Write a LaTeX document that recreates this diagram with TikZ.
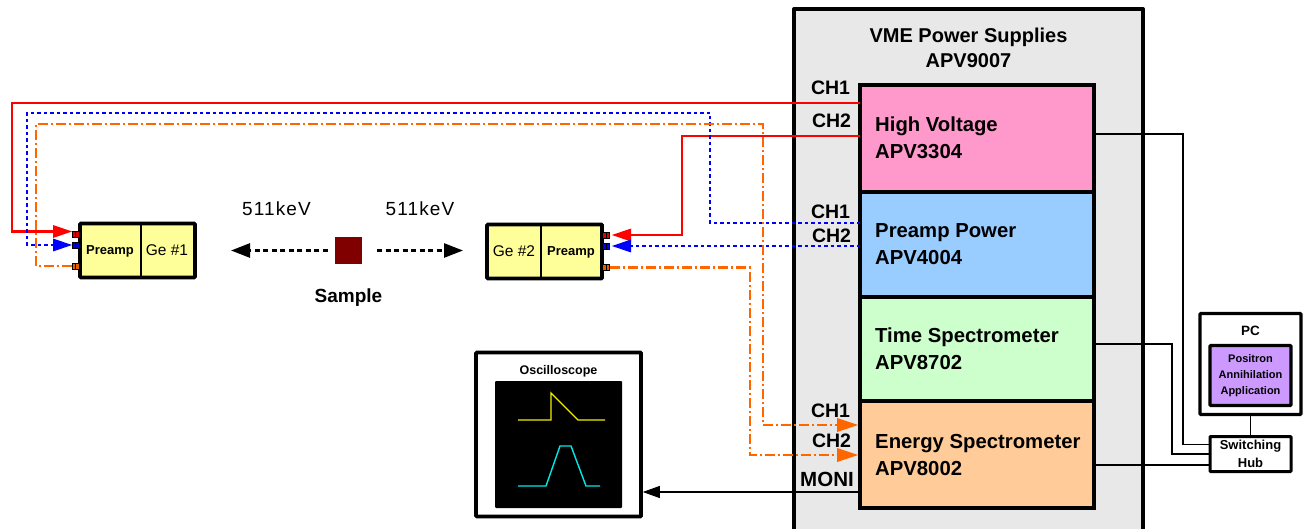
\documentclass[tikz,border=0pt]{standalone}
\usepackage{fontspec}
\setmainfont{Liberation Sans}
\newfontfamily\spaced{Liberation Sans}[LetterSpace=6]
\usetikzlibrary{arrows.meta}
\definecolor{hv}{HTML}{FF99CC}
\definecolor{pp}{HTML}{99CCFF}
\definecolor{ts}{HTML}{CCFFCC}
\definecolor{es}{HTML}{FFCC99}
\definecolor{yel}{HTML}{FFFF99}
\definecolor{pur}{HTML}{CC99FF}
\definecolor{org}{HTML}{FF6600}
\definecolor{gry}{HTML}{E8E8E8}
\definecolor{sam}{HTML}{800000}
\definecolor{wavey}{HTML}{F0F000}
\definecolor{wavec}{HTML}{00E8E8}
\definecolor{portr}{HTML}{E00000}
\definecolor{portb}{HTML}{0000E0}
\definecolor{porto}{HTML}{E06000}
\tikzset{
  x=1pt,y=-1pt,
  modt/.style={inner sep=0pt,anchor=west,align=left,font=\fontsize{20.3}{27}\bfseries},
  port/.style={draw=black,line width=0.8pt,inner sep=0pt,minimum width=7pt,minimum height=6pt,
     path picture={\draw[black,line width=0.6pt] (path picture bounding box.north) -- (path picture bounding box.south);}},
  chl/.style={font=\fontsize{19.5}{22}\bfseries,inner sep=0pt},
  redl/.style={draw=red,line width=2.5pt},
  blul/.style={draw=blue,line width=2.5pt,dash pattern=on 3.5pt off 3pt},
  orgl/.style={draw=org,line width=2.5pt,dash pattern=on 10pt off 3pt on 2pt off 3pt},
  netl/.style={draw=black,line width=1.6pt},
  beam/.style={draw=black,line width=2.6pt,dash pattern=on 5pt off 3.5pt,-{Triangle[length=19pt,width=14pt]}},
  lbl/.style={inner sep=0pt},
  modbox/.style={draw=black,line width=3.6pt},
}
\begin{document}
\begin{tikzpicture}
\useasboundingbox (0,0) rectangle (1309,529);
% power crate (open at the bottom edge of the picture)
\fill[gry] (794,9) rectangle (1143,529);
\draw[line width=4pt,line join=round] (794,529) -- (794,9) -- (1143,9) -- (1143,529);
\node[lbl,font=\fontsize{20}{25}\bfseries,align=center] (crate) at (968.5,48) {VME Power Supplies\\APV9007};
% modules
\path[modbox,fill=hv] (860,85) rectangle (1094,192);
\path[modbox,fill=pp] (860,192) rectangle (1094,297);
\path[modbox,fill=ts] (860,297) rectangle (1094,401);
\path[modbox,fill=es] (860,401) rectangle (1094,508);
\node[modt] (hvt) at (875,138) {High Voltage\\APV3304};
\node[modt] (ppt) at (875,244) {Preamp Power\\APV4004};
\node[modt] (tst) at (875,349) {Time Spectrometer\\APV8702};
\node[modt] (est) at (875,455) {Energy Spectrometer\\APV8002};
\node[chl] (c1) at (830.5,88) {CH1};
\node[chl] (c2) at (831.5,121) {CH2};
\node[chl] (c3) at (830.5,212) {CH1};
\node[chl] (c4) at (831.5,236) {CH2};
\node[chl] (c5) at (830.5,411) {CH1};
\node[chl] (c6) at (831.5,441) {CH2};
\node[chl,font=\fontsize{20.5}{22}\bfseries] (c7) at (827,479) {MONI};
% detectors
\path[draw=black,line width=3.6pt,fill=yel,rounded corners=0.8pt] (80,223.5) rectangle (195,277.5);
\draw[line width=2.6pt] (141,223.5) -- (141,277.5);
\node[lbl,font=\fontsize{13}{16}\bfseries] (pa1) at (110,251) {Preamp};
\node[lbl,font=\fontsize{15.5}{18}\selectfont] (ge1) at (167,250) {Ge \#1};
\path[draw=black,line width=3.6pt,fill=yel,rounded corners=0.8pt] (487,224.5) rectangle (602,278.5);
\draw[line width=2.6pt] (541,224.5) -- (541,278.5);
\node[lbl,font=\fontsize{13}{16}\bfseries] (pa2) at (571,252) {Preamp};
\node[lbl,font=\fontsize{15.5}{18}\selectfont] (ge2) at (514,251) {Ge \#2};
% sample and beams
\node[fill=sam,minimum size=27pt,inner sep=0pt] (smp) at (348.5,250.5) {};
\node[lbl,font=\fontsize{19}{20}\spaced] (kl) at (276.5,209) {511keV};
\node[lbl,font=\fontsize{19}{20}\spaced] (kr) at (420,209) {511keV};
\node[lbl,font=\fontsize{19}{20}\bfseries] (sl) at (348.5,298) {Sample};
\coordinate (bl) at (231,250.5);
\coordinate (br) at (463,250.5);
\draw[beam] (smp.west) ++(-7,0) -- (bl);
\draw[beam] (smp.east) ++(15,0) -- (br);
% oscilloscope
\node[draw=black,fill=white,line width=3.6pt,minimum width=165pt,minimum height=164pt,inner sep=0pt,rounded corners=0.8pt] (osc) at (558.5,434.5) {};
\node[lbl,font=\fontsize{12.5}{15}\bfseries] (osl) at (558.5,371) {Oscilloscope};
\node[fill=black,minimum width=127pt,minimum height=127pt,inner sep=0pt,rounded corners=1pt] (scr) at (558.5,444.5) {};
\draw[draw=wavey,line width=1.4pt] (518,420) -- (551,420) -- (551,393) -- (578,420) -- (605,420);
\draw[draw=wavec,line width=1.4pt] (518,486) -- (546,486) -- (560,446) -- (571,446) -- (586,486) -- (600,486);
% PC and hub
\node[draw=black,fill=white,line width=3.2pt,minimum width=101pt,minimum height=101pt,inner sep=0pt,rounded corners=0.8pt] (pc) at (1250.5,364) {};
\node[lbl,font=\fontsize{13.5}{16}\bfseries] (pcl) at (1250.5,331) {PC};
\node[draw=black,fill=pur,line width=3.2pt,minimum width=81pt,minimum height=60pt,inner sep=0pt,rounded corners=0.8pt,font=\fontsize{11}{16}\bfseries,align=center] (app) at (1250.5,375.5) {Positron\\Annihilation\\Application};
\node[draw=black,fill=white,line width=3pt,minimum width=81pt,minimum height=35pt,inner sep=0pt,rounded corners=0.8pt,font=\fontsize{13}{18}\bfseries,align=center] (hub) at (1250.5,454) {Switching\\Hub};
% connector end coordinates
\coordinate (hvw1) at (860,103);
\coordinate (hvw2) at (860,136);
\coordinate (ppw1) at (860,223);
\coordinate (ppw2) at (860,246);
\coordinate (esw3) at (860,492);
\coordinate (hve) at (1094,134);
\coordinate (tse) at (1094,344);
\coordinate (ese) at (1094,465);
% connectors
\draw[redl] (hvw1) -- (12,103) -- (12,231.5) -- (55,231.5);
\fill[red] (72,231.5) -- (53,225) -- (53,238) -- cycle;
\draw[redl] (hvw2) -- (682,136) -- (682,235) -- (630,235);
\fill[red] (612,235) -- (631,228.5) -- (631,241.5) -- cycle;
\draw[blul] (ppw1) -- (710,223) -- (710,113) -- (27,113) -- (27,245) -- (55,245);
\fill[blue] (72,245) -- (53,238.5) -- (53,251.5) -- cycle;
\draw[blul] (ppw2) -- (630,246);
\fill[blue] (612,246) -- (631,239.5) -- (631,252.5) -- cycle;
\node[port,fill=portr] (r1) at (75.5,234.5) {};
\node[port,fill=portb] (b1) at (75.5,245) {};
\node[port,fill=porto] (o1) at (75.5,266) {};
\node[port,fill=portr] (r2) at (606,235.5) {};
\node[port,fill=portb] (b2) at (606,246.3) {};
\node[port,fill=porto] (o2) at (606,267.7) {};
\draw[orgl] (o1.west) -- (36,266) -- (36,124) -- (763,124) -- (763,425) -- (840,425);
\fill[org] (858,425) -- (837,418) -- (837,432) -- cycle;
\draw[orgl] (o2.east) -- (750,267.7) -- (750,455) -- (840,455);
\fill[org] (858,455) -- (837,448) -- (837,462) -- cycle;
\draw[draw=black,line width=1.1pt,-{Triangle[length=17pt,width=12pt]}] (esw3) -- (osc.east |- esw3);
\draw[netl] (hve) -- (1183,134) -- (1183,444.5) -- (hub.west |- 0,444.5);
\draw[netl] (tse) -- (1172,344) -- (1172,454) -- (hub.west);
\draw[netl] (ese) -- (hub.west |- ese);
\draw[netl] (pc.south) -- (hub.north);
\end{tikzpicture}
\end{document}
